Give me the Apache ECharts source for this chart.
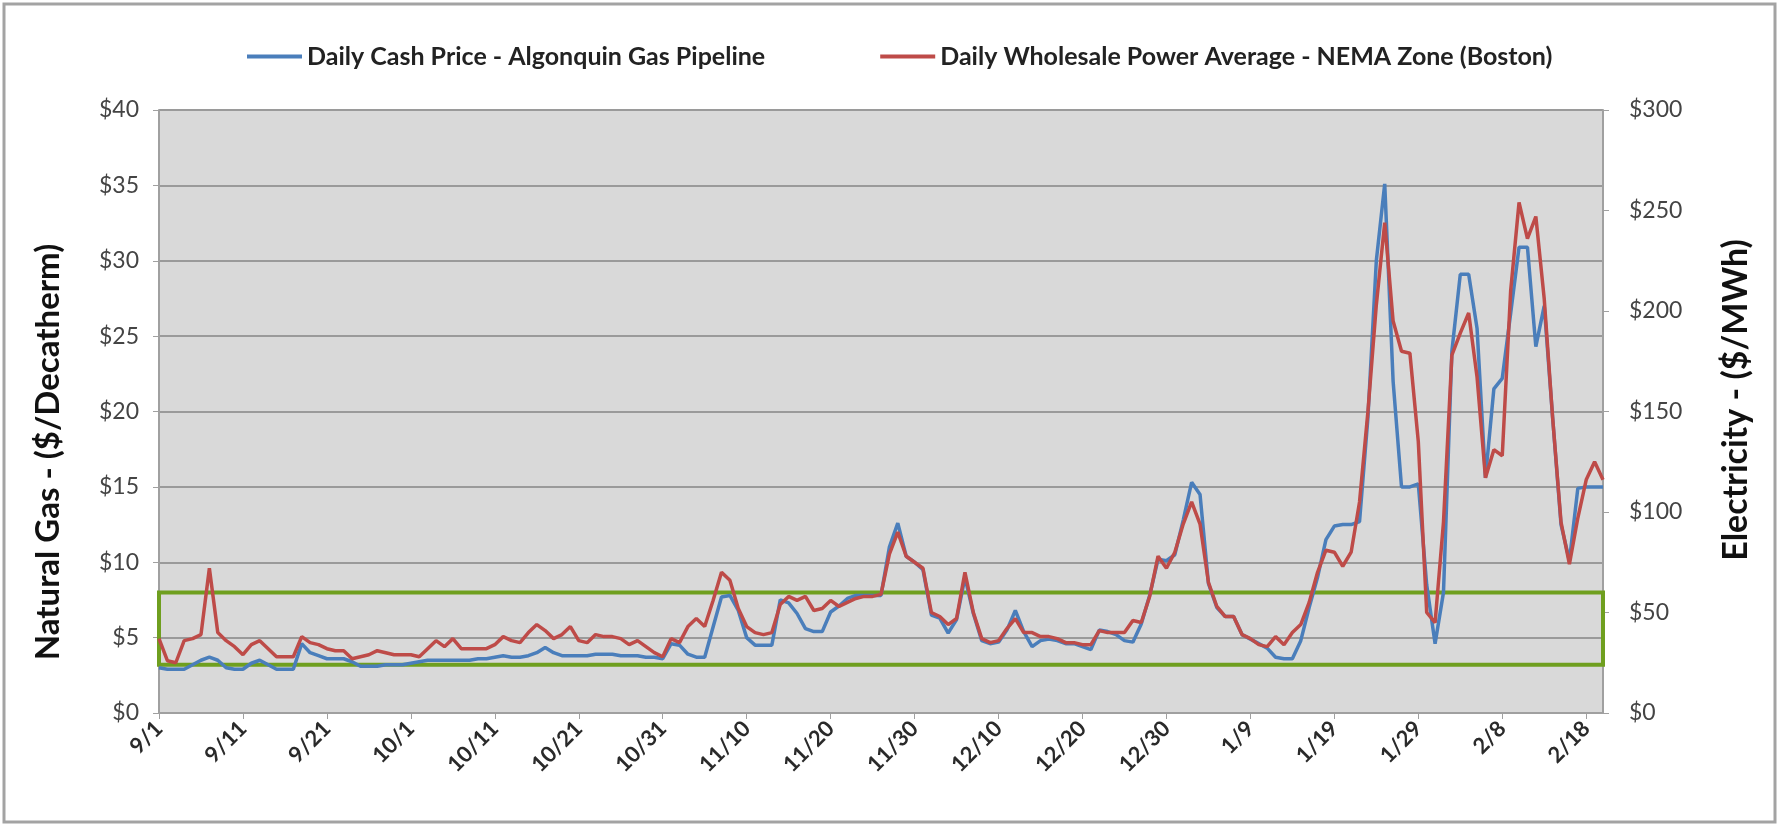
<!DOCTYPE html>
<html lang="en">
<head>
  <meta charset="UTF-8">
  <title>Algonquin gas vs NEMA power</title>
  <style>
    html, body { margin: 0; padding: 0; background: #fff; }
    #chart { width: 1779px; height: 824px; }
  </style>
  <script src="https://cdn.jsdelivr.net/npm/echarts@6/dist/echarts.min.js"></script>
</head>
<body>
  <div id="chart"></div>
  <script>
    // month number and how many days are shown (9/1 .. 2/20)
    const monthDays = [[9, 30], [10, 31], [11, 30], [12, 31], [1, 31], [2, 20]];
    const dates = [];
    monthDays.forEach(([m, n]) => {
      for (let d = 1; d <= n; d++) dates.push(m + '/' + d);
    });

    // Daily Cash Price - Algonquin Gas Pipeline ($/Decatherm)
    const gasPrice = [
      3.0, 2.9, 2.9, 2.9, 3.2, 3.5, 3.7, 3.5, 3.0, 2.9,
      2.9, 3.3, 3.5, 3.2, 2.9, 2.9, 2.9, 4.6, 4.0, 3.8,
      3.6, 3.6, 3.6, 3.4, 3.1, 3.1, 3.1, 3.2, 3.2, 3.2,
      3.3, 3.4, 3.5, 3.5, 3.5, 3.5, 3.5, 3.5, 3.6, 3.6,
      3.7, 3.8, 3.7, 3.7, 3.8, 4.0, 4.35, 4.0, 3.8, 3.8,
      3.8, 3.8, 3.9, 3.9, 3.9, 3.8, 3.8, 3.8, 3.7, 3.7,
      3.6, 4.6, 4.5, 3.9, 3.7, 3.7, 5.7, 7.7, 7.8, 6.8,
      5.0, 4.5, 4.5, 4.5, 7.5, 7.3, 6.6, 5.6, 5.4, 5.4,
      6.7, 7.1, 7.6, 7.8, 7.8, 7.8, 7.8, 11.0, 12.6, 10.4,
      10.0, 9.5, 6.5, 6.3, 5.3, 6.2, 9.0, 6.6, 4.8, 4.6,
      4.7, 5.5, 6.8, 5.4, 4.4, 4.8, 4.9, 4.8, 4.6, 4.6,
      4.4, 4.2, 5.5, 5.4, 5.2, 4.8, 4.7, 5.9, 7.8, 10.2,
      10.1, 10.5, 12.8, 15.3, 14.5, 8.6, 7.0, 6.4, 6.4, 5.2,
      4.9, 4.6, 4.3, 3.7, 3.6, 3.6, 4.8, 7.0, 9.0, 11.5,
      12.4, 12.5, 12.5, 12.7, 19.6, 30.0, 35.1, 22.0, 15.0, 15.0,
      15.2, 8.5, 4.6, 8.0, 24.0, 29.1, 29.1, 25.5, 15.6, 21.5,
      22.2, 26.5, 30.9, 30.9, 24.3, 27.0, 19.6, 12.5, 10.1, 14.9,
      15.0, 15.0, 15.0
    ];

    // Daily Wholesale Power Average - NEMA Zone (Boston) ($/MWh)
    const powerPrice = [
      37, 26, 25, 36, 37, 39, 72, 40, 36, 33,
      29, 34, 36, 32, 28, 28, 28, 38, 35, 34,
      32, 31, 31, 27, 28, 29, 31, 30, 29, 29,
      29, 28, 32, 36, 33, 37, 32, 32, 32, 32,
      34, 38, 36, 35, 40, 44, 41, 37, 39, 43,
      36, 35, 39, 38, 38, 37, 34, 36, 33, 30,
      28, 37, 35, 43, 47, 43, 56, 70, 66, 52,
      43, 40, 39, 40, 54, 58, 56, 58, 51, 52,
      56, 53, 55, 57, 58, 58, 59, 79, 90, 78,
      75, 72, 50, 48, 44, 47, 70, 50, 37, 35,
      36, 42, 47, 40, 40, 38, 38, 37, 35, 35,
      34, 34, 41, 40, 40, 40, 46, 45, 58, 78,
      72, 80, 94, 105, 94, 65, 53, 48, 48, 39,
      37, 34, 33, 38, 34, 40, 44, 55, 70, 81,
      80, 73, 80, 105, 150, 203, 244, 195, 180, 179,
      135, 50, 45, 95, 178, 189, 199, 167, 117, 131,
      128, 210, 254, 236, 247, 206, 147, 95, 74, 97,
      116, 125, 116
    ];

    // green highlight box, in gas $ units
    const boxLow = 3.2;
    const boxHigh = 8.0;

    const font = 'Lato, "Liberation Sans", sans-serif';
    const chart = echarts.init(document.getElementById('chart'));

    const option = {
      animation: false,
      backgroundColor: '#ffffff',
      textStyle: { fontFamily: font },
      grid: {
        left: 159, right: 176, top: 110, bottom: 111,
        show: true, backgroundColor: '#d9d9d9', borderWidth: 0
      },
      legend: {
        left: 242, top: 39,
        icon: 'rect', itemWidth: 55, itemHeight: 4, itemGap: 115,
        textStyle: { fontFamily: font, fontSize: 25, fontWeight: 'bold', color: '#222' },
        data: ['Daily Cash Price - Algonquin Gas Pipeline', 'Daily Wholesale Power Average - NEMA Zone (Boston)']
      },
      xAxis: {
        type: 'category',
        data: dates,
        boundaryGap: false,
        axisLine: { lineStyle: { color: '#a0a0a0', width: 2 } },
        axisTick: { interval: 9, length: 6, lineStyle: { color: '#a0a0a0' } },
        axisLabel: {
          interval: 9, rotate: 45, margin: 12,
          fontSize: 22, fontWeight: 'bold', color: '#2a2a2a', fontFamily: font
        },
        splitLine: { show: false }
      },
      yAxis: [
        {
          type: 'value', min: 0, max: 40, interval: 5,
          axisLine: { show: true, lineStyle: { color: '#a0a0a0', width: 2 } },
          axisTick: { show: true, length: 6, lineStyle: { color: '#a0a0a0' } },
          axisLabel: { margin: 20, fontSize: 23, color: '#444', formatter: '${value}' },
          splitLine: { lineStyle: { color: '#9a9a9a', width: 2 } }
        },
        {
          type: 'value', min: 0, max: 300, interval: 50,
          axisLine: { show: true, lineStyle: { color: '#a0a0a0', width: 2 } },
          axisTick: { show: true, length: 6, lineStyle: { color: '#a0a0a0' } },
          axisLabel: { margin: 26, fontSize: 23, color: '#444', formatter: '${value}' },
          splitLine: { show: false }
        }
      ],
      graphic: [
        {
          type: 'rect', silent: true, z: 100,
          shape: { x: 4, y: 4, width: 1771, height: 818 },
          style: { fill: 'none', stroke: '#a3a3a3', lineWidth: 3 }
        },
        {
          type: 'text', x: 48, y: 452, rotation: Math.PI / 2,
          style: {
            text: 'Natural Gas - ($/Decatherm)', fill: '#111',
            font: 'bold 33px ' + font, align: 'center', verticalAlign: 'middle'
          }
        },
        {
          type: 'text', x: 1736, y: 400, rotation: Math.PI / 2,
          style: {
            text: 'Electricity - ($/MWh)', fill: '#111',
            font: 'bold 34px ' + font, align: 'center', verticalAlign: 'middle'
          }
        }
      ],
      series: [
        {
          name: 'Daily Cash Price - Algonquin Gas Pipeline',
          type: 'line',
          yAxisIndex: 0,
          data: gasPrice,
          symbol: 'none',
          itemStyle: { color: '#4a7ebb' },
          lineStyle: { color: '#4a7ebb', width: 3.5 },
          markArea: {
            silent: true,
            itemStyle: { color: 'rgba(0,0,0,0)', borderColor: '#6f9f1f', borderWidth: 4 },
            data: [[
              { coord: [dates[0], boxLow] },
              { coord: [dates[dates.length - 1], boxHigh] }
            ]]
          }
        },
        {
          name: 'Daily Wholesale Power Average - NEMA Zone (Boston)',
          type: 'line',
          yAxisIndex: 1,
          data: powerPrice,
          symbol: 'none',
          itemStyle: { color: '#be4b48' },
          lineStyle: { color: '#be4b48', width: 3.5 }
        }
      ]
    };

    chart.setOption(option);
  </script>
</body>
</html>
